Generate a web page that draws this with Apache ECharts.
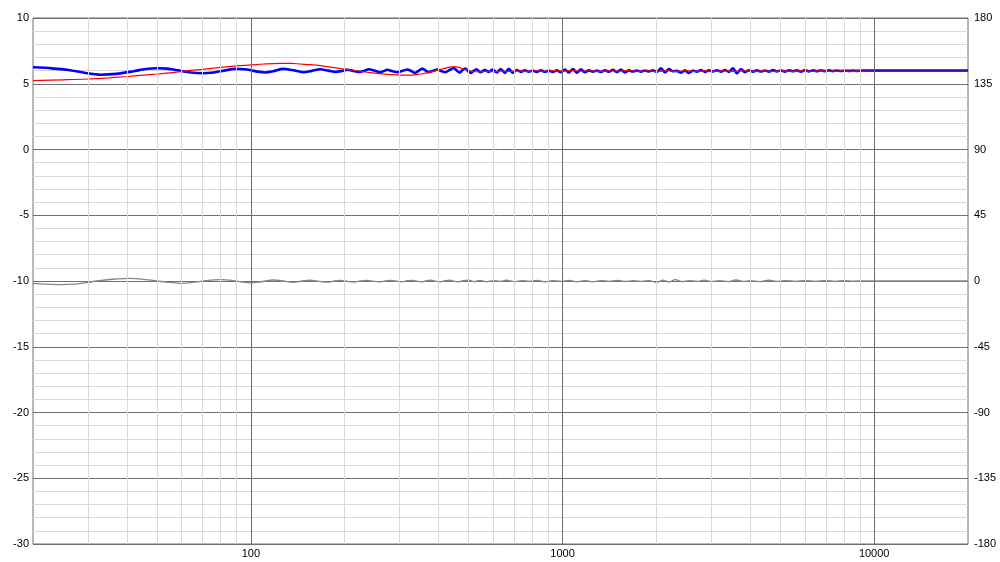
<!DOCTYPE html>
<html><head><meta charset="utf-8">
<script src="https://cdn.jsdelivr.net/npm/echarts@6/dist/echarts.min.js"></script>
<style>html,body{margin:0;padding:0;background:#fff}#c{width:1000px;height:562px}</style>
</head><body><div id="c"></div>
<script>
// Frequency axis (Hz)
const freqMin = 20, freqMax = 20000;
const freqMajorTicks = [100, 1000, 10000];
const freqMinorTicks = [30,40,50,60,70,80,90,200,300,400,500,600,700,800,900,2000,3000,4000,5000,6000,7000,8000,9000];
// Left axis (dB) and right axis (deg)
const dbMin = -30, dbMax = 10, dbStep = 5;
const degMin = -180, degMax = 180, degStep = 45;

// Blue magnitude (dB)
const blueFreq = [20,23,26,29,33,37,42,46,50,54,59,64,70,76,82,89,95,100,105,111,118,127,137,148,157,167,177,187,196,204,213,222,231,239,250,260,267,274,285,295,307,318,328,337,346,355,364,372,384,396,408,421,435,448,458,468,478,488,498,508,518,530,546,563,580,597,615,634,653,672,692,713,735,757,780,803,827,852,877,904,931,959,988,1018,1048,1080,1112,1145,1180,1215,1252,1289,1328,1368,1409,1451,1495,1540,1586,1633,1682,1733,1785,1838,1893,1950,2009,2069,2131,2195,2261,2329,2399,2471,2545,2621,2700,2781,2864,2950,3039,3130,3224,3320,3420,3523,3628,3737,3849,3965,4084,4206,4332,4462,4596,4734,4876,5022,5173,5328,5488,5653,5822,5997,6177,6362,6553,6749,6952,7160,7375,7596,7824,8059,8300,8549,8806,9070,9622,20000];
const blueDb = [6.25,6.17,6.05,5.85,5.69,5.75,5.95,6.12,6.18,6.15,6.0,5.86,5.8,5.86,6.0,6.13,6.1,6.03,5.92,5.86,5.95,6.13,6.02,5.87,5.98,6.1,6.0,5.9,5.97,6.06,5.97,5.89,5.98,6.1,5.98,5.88,5.96,6.06,5.95,5.88,5.98,6.08,5.95,5.83,6.0,6.15,6.0,5.88,5.98,6.08,5.97,5.87,6.05,6.2,6.0,5.84,6.05,6.15,5.95,5.82,5.98,6.1,5.87,6.05,5.9,6.08,5.86,6.12,5.82,6.14,5.84,6.04,5.9,6.02,5.92,6.0,5.9,6.03,5.91,6.0,5.9,6.02,5.88,6.08,5.85,6.12,5.84,6.1,5.88,6.02,5.92,6.0,5.9,6.03,5.91,6.06,5.88,6.08,5.86,6.02,5.93,6.0,5.92,6.01,5.94,6.02,5.9,6.18,5.86,6.12,5.95,5.98,5.84,6.02,5.82,6.0,5.92,6.04,5.9,6.02,5.93,6.03,5.92,6.05,5.9,6.18,5.78,6.12,5.88,6.03,5.92,6.02,5.93,6.01,5.92,6.04,5.94,6.02,5.92,6.03,5.95,6.02,5.92,6.04,5.94,6.02,5.95,6.03,5.96,6.02,5.96,6.01,5.97,6.01,5.98,6.01,5.98,6.0,6.0,6.0];

// Red magnitude (dB)
const redFreq = [20,25,30,35,40,45,50,56,61,70,80,90,100,110,124,135,144,155,167,180,195,209,225,240,260,280,300,320,340,355,375,395,410,430,448,465,480,500,517,540,570,600,640,680,720,770,820,880,940,1000,1070,1150,1230,1320,1420,1520,1630,1750,1880,2020,2170,2330,2500,2680,2880,3090,3320,3560,3820,4100,4400,4720,5070,5440,5840,6270,6730,7220,7750,8320,8930,10000,20000];
const redDb = [5.24,5.3,5.36,5.45,5.55,5.65,5.74,5.85,5.96,6.1,6.25,6.36,6.43,6.5,6.55,6.55,6.5,6.45,6.38,6.27,6.15,6.06,5.95,5.85,5.77,5.7,5.66,5.66,5.7,5.76,5.88,6.02,6.12,6.24,6.3,6.25,6.12,6.0,5.93,5.9,5.95,5.92,5.97,5.93,5.98,5.94,5.99,5.95,6.0,5.96,6.0,5.95,5.99,5.94,5.99,5.95,6.0,5.94,5.99,5.93,5.99,5.94,6.0,5.93,5.98,5.94,5.99,5.93,5.99,5.94,5.98,5.94,5.98,5.94,5.98,5.95,5.98,5.95,5.97,5.95,5.96,5.95,5.95];

// Gray phase (deg)
const phaseFreq = [20,22,24.5,27,30,32,36,41,46,50,55,59.5,65,72,80,88,94,100,108,118,127,137,146,155,165,176,185,194,204,214,225,236,248,258,270,282,295,306,318,330,342,355,367,380,392,405,420,435,450,465,480,500,520,545,570,600,630,660,700,740,780,830,880,930,990,1050,1110,1180,1250,1330,1410,1500,1590,1690,1800,1900,2000,2100,2200,2300,2420,2550,2700,2850,3000,3200,3400,3600,3800,4000,4300,4600,4900,5200,5600,6000,6500,7000,7500,8000,8600,9200,10000,20000];
const phaseDeg = [-1.6,-2.2,-2.5,-2.2,-1.0,0,1.2,1.8,1.0,0,-1.0,-1.6,-1.0,0.3,0.9,0.2,-0.8,-1.3,-0.5,0.7,0,-0.9,0,0.5,-0.2,-0.8,0,0.4,-0.2,-0.7,0,0.4,-0.3,-0.6,0.1,0.4,-0.3,-0.5,0.2,0.4,-0.3,-0.6,0.3,0.5,-0.2,-0.5,0.2,0.6,-0.3,-0.6,0.3,0.5,-0.4,0.4,-0.5,0.3,-0.3,0.5,-0.4,0.3,-0.2,0.4,-0.5,0.3,-0.3,0.4,-0.5,0.3,-0.4,0.3,-0.2,0.4,-0.3,0.2,-0.3,0.3,-1.0,0.5,-0.6,0.9,-0.4,0.3,-0.3,0.6,-0.3,0.2,-0.4,0.7,-0.3,0.2,-0.4,0.5,-0.2,0.3,-0.3,0.3,-0.2,0.3,-0.2,0.2,-0.1,0.1,0,0];

const zip = (xs, ys) => xs.map((x, i) => [x, ys[i]]);

const FONT = 'Liberation Sans';
const MAJOR = '#6e6e6e', MINOR = '#d8d8d8';

const chart = echarts.init(document.getElementById('c'), null, {renderer: 'canvas'});
chart.setOption({
  backgroundColor: '#ffffff',
  animation: false,
  grid: {left: 33, right: 32, top: 18, bottom: 18, show: true, borderColor: MAJOR, borderWidth: 1, backgroundColor: 'transparent', containLabel: false},
  xAxis: {
    type: 'log', logBase: 10, min: freqMin, max: freqMax,
    axisLine: {show: false}, axisTick: {show: false},
    axisLabel: {color: '#000', fontFamily: FONT, fontSize: 11, margin: 4,
      customValues: freqMajorTicks, hideOverlap: false,
      formatter: v => String(Math.round(v))},
    splitLine: {show: false},
    minorSplitLine: {show: false}
  },
  yAxis: [{
    type: 'value', min: dbMin, max: dbMax, interval: dbStep,
    axisLine: {show: false}, axisTick: {show: false},
    axisLabel: {color: '#000', fontFamily: FONT, fontSize: 11, margin: 4},
    splitLine: {show: true, lineStyle: {color: MAJOR, width: 1}},
    minorTick: {show: false, splitNumber: 5},
    minorSplitLine: {show: true, lineStyle: {color: MINOR, width: 1}}
  }, {
    type: 'value', min: degMin, max: degMax, interval: degStep, position: 'right',
    axisLine: {show: false}, axisTick: {show: false},
    axisLabel: {color: '#000', fontFamily: FONT, fontSize: 11, margin: 6},
    splitLine: {show: false}
  }],
  series: [
    {
      type: 'line', data: [], z: -1, silent: true,
      markLine: {silent: true, symbol: 'none', animation: false, label: {show: false},
        emphasis: {disabled: true},
        lineStyle: {type: 'solid', color: MINOR, width: 1},
        data: freqMinorTicks.map(v => ({xAxis: v}))}
    },
    {
      type: 'line', data: [], z: 0, silent: true,
      markLine: {silent: true, symbol: 'none', animation: false, label: {show: false},
        emphasis: {disabled: true},
        lineStyle: {type: 'solid', color: MAJOR, width: 1},
        data: freqMajorTicks.map(v => ({xAxis: v}))}
    },
    {name: 'phase', type: 'line', yAxisIndex: 1, data: zip(phaseFreq, phaseDeg), showSymbol: false, silent: true,
      smooth: 0.3, lineStyle: {color: '#858585', width: 1.3}, z: 2},
    {name: 'blue', type: 'line', data: zip(blueFreq, blueDb), showSymbol: false, silent: true,
      smooth: 0.25, lineStyle: {color: '#0000ff', width: 2.6}, z: 3},
    {name: 'red', type: 'line', data: zip(redFreq, redDb), showSymbol: false, silent: true,
      smooth: 0.3, lineStyle: {color: '#ff0000', width: 1.2}, z: 4}
  ]
});
</script>
</body></html>
